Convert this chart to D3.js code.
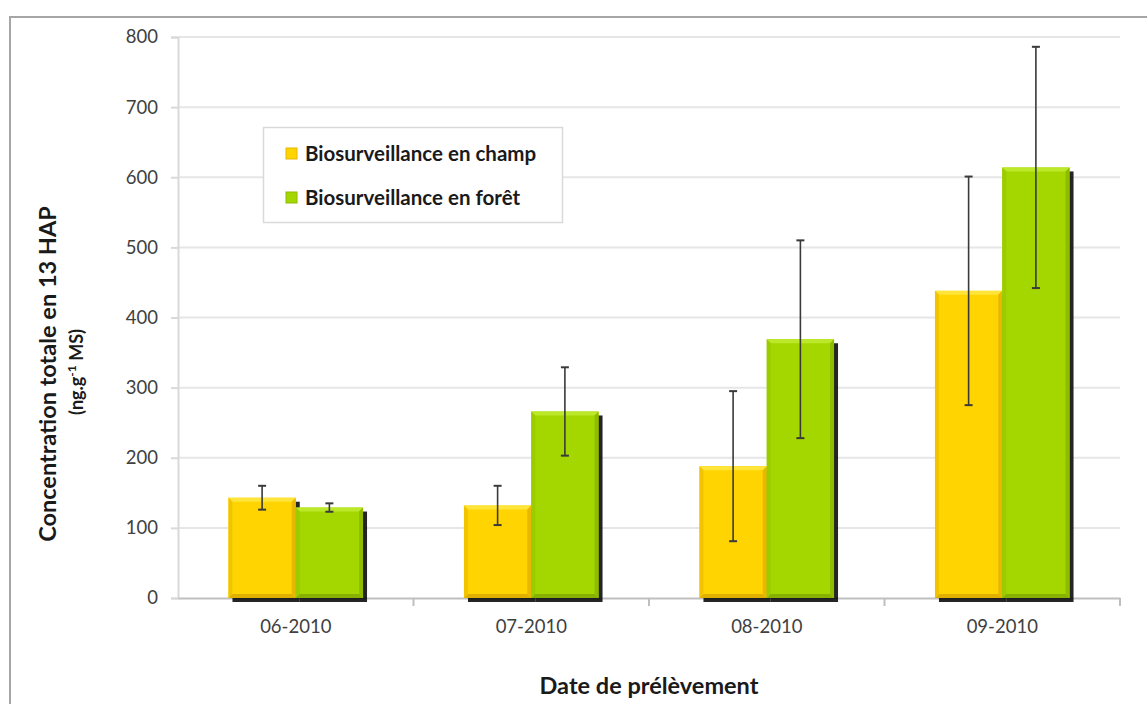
<!DOCTYPE html>
<html>
<head>
<meta charset="utf-8">
<script src="https://cdn.jsdelivr.net/npm/d3@7"></script>
<style>
  html, body { margin: 0; padding: 0; background: #fff; }
  svg { display: block; }
  text { font-family: Lato, "Open Sans", sans-serif; }
</style>
</head>
<body>
<svg id="chart" width="1147" height="704"></svg>
<script>
// Sampling months
const categories = ["06-2010", "07-2010", "08-2010", "09-2010"];
// Series names (legend)
const seriesNames = ["Biosurveillance en champ", "Biosurveillance en forêt"];
// Mean total concentration of the 13 PAHs (ng/g DM)
const champValues = [143, 132, 188, 438];
const foretValues = [129, 266, 369, 614];
// Error bar half-widths
const champErrors = [17, 28, 107, 163];
const foretErrors = [6, 63, 141, 172];
// Y axis ticks
const yTicks = [0, 100, 200, 300, 400, 500, 600, 700, 800];

const colors = {
  base:   ["#ffd400", "#a4d600"],
  top:    ["#ffe43a", "#bce82a"],
  left:   ["#f2c400", "#9acc00"],
  right:  ["#e8b800", "#90bc00"],
  bottom: ["#e0b000", "#88b000"]
};

const svg = d3.select("#chart");
const W = 1147, H = 704;
const plot = { left: 178, right: 1120, top: 37, bottom: 598 };

// Outer frame (left and top edges visible)
svg.append("path")
  .attr("d", `M10,${H} L10,17 L${W},17`)
  .attr("fill", "none")
  .attr("stroke", "#a6a6a6")
  .attr("stroke-width", 2);

const x0 = d3.scaleBand().domain(categories).range([plot.left, plot.right]).padding(0);
const bw = x0.bandwidth();
const barW = bw / 3.5;           // gap width of 150 %
const x1 = d3.scaleBand().domain(seriesNames)
  .range([0.75 * barW, bw - 0.75 * barW]).padding(0);
const y = d3.scaleLinear().domain([0, 800]).range([plot.bottom, plot.top]);

// Gridlines
svg.append("g").selectAll("line").data(yTicks.filter(d => d > 0)).join("line")
  .attr("x1", plot.left).attr("x2", plot.right)
  .attr("y1", d => y(d)).attr("y2", d => y(d))
  .attr("stroke", "#e6e6e6").attr("stroke-width", 2);

// Y axis
const yAxis = svg.append("g")
  .attr("transform", `translate(${plot.left},0)`)
  .call(d3.axisLeft(y).tickValues(yTicks).tickSize(7).tickPadding(13));
yAxis.select(".domain").attr("stroke", "#d9d9d9").attr("stroke-width", 2);
yAxis.selectAll(".tick line").attr("stroke", "#d9d9d9").attr("stroke-width", 2);
yAxis.selectAll(".tick text")
  .attr("font-size", 18.5).attr("fill", "#404040")
  .attr("font-family", "Lato, sans-serif");

// X axis
const xAxis = svg.append("g")
  .attr("transform", `translate(0,${plot.bottom})`)
  .call(d3.axisBottom(x0).tickSize(0).tickPadding(22));
xAxis.select(".domain").attr("stroke", "#bfbfbf").attr("stroke-width", 2);
xAxis.selectAll(".tick text")
  .attr("font-size", 18.5).attr("fill", "#404040")
  .attr("font-family", "Lato, sans-serif");
// Category separators
svg.append("g").selectAll("line")
  .data(categories.map(c => x0(c) + bw))
  .join("line")
  .attr("x1", d => d).attr("x2", d => d)
  .attr("y1", plot.bottom).attr("y2", plot.bottom + 8)
  .attr("stroke", "#bfbfbf").attr("stroke-width", 2);

// Shadow filter
const defs = svg.append("defs");
defs.append("filter").attr("id", "shadowBlur")
  .attr("x", "-10%").attr("y", "-10%").attr("width", "120%").attr("height", "120%")
  .append("feGaussianBlur").attr("stdDeviation", 0.7);

const seriesVals = [champValues, foretValues];
const seriesErr = [champErrors, foretErrors];
const b = 4; // bevel size

function drawBar(g, xL, yT, w, h, si) {
  g.append("rect")
    .attr("x", xL + 4).attr("y", yT + 4).attr("width", w).attr("height", h)
    .attr("fill", "#000").attr("opacity", 0.85)
    .attr("filter", "url(#shadowBlur)");
  g.append("rect")
    .attr("x", xL).attr("y", yT).attr("width", w).attr("height", h)
    .attr("fill", colors.base[si]);
  const xR = xL + w, yB = yT + h;
  const poly = pts => "M" + pts.map(p => p.join(",")).join("L") + "Z";
  g.append("path").attr("d", poly([[xL, yT], [xR, yT], [xR - b, yT + b], [xL + b, yT + b]]))
    .attr("fill", colors.top[si]);
  g.append("path").attr("d", poly([[xL, yT], [xL + b, yT + b], [xL + b, yB - b], [xL, yB]]))
    .attr("fill", colors.left[si]);
  g.append("path").attr("d", poly([[xR, yT], [xR - b, yT + b], [xR - b, yB - b], [xR, yB]]))
    .attr("fill", colors.right[si]);
  g.append("path").attr("d", poly([[xL, yB], [xL + b, yB - b], [xR - b, yB - b], [xR, yB]]))
    .attr("fill", colors.bottom[si]);
}

const barsG = svg.append("g");
categories.forEach((c, ci) => {
  seriesNames.forEach((s, si) => {
    const v = seriesVals[si][ci];
    const xL = x0(c) + x1(s);
    drawBar(barsG, xL, y(v), x1.bandwidth(), y(0) - y(v), si);
  });
});

// Error bars
const errG = svg.append("g");
categories.forEach((c, ci) => {
  seriesNames.forEach((s, si) => {
    const v = seriesVals[si][ci], e = seriesErr[si][ci];
    const cx = x0(c) + x1(s) + x1.bandwidth() / 2;
    const yHi = y(v + e), yLo = y(v - e);
    errG.append("line").attr("x1", cx).attr("x2", cx).attr("y1", yHi).attr("y2", yLo)
      .attr("stroke", "#3a3a3a").attr("stroke-width", 1.6);
    [yHi, yLo].forEach(yy => errG.append("line")
      .attr("x1", cx - 4).attr("x2", cx + 4).attr("y1", yy).attr("y2", yy)
      .attr("stroke", "#3a3a3a").attr("stroke-width", 2));
  });
});

// Legend
const leg = svg.append("g").attr("transform", "translate(263,127)");
leg.append("rect").attr("x", 0.5).attr("y", 0.5).attr("width", 299).attr("height", 95)
  .attr("fill", "#fff").attr("stroke", "#d9d9d9").attr("stroke-width", 1.5);
seriesNames.forEach((s, si) => {
  const row = leg.append("g").attr("transform", `translate(0,${27 + si * 44})`);
  row.append("rect").attr("x", 23).attr("y", -6).attr("width", 11).attr("height", 11)
    .attr("fill", colors.base[si]).attr("stroke", colors.right[si]).attr("stroke-width", 1);
  row.append("text").attr("x", 42).attr("y", 0).attr("dy", "0.35em")
    .attr("font-size", 20.5).attr("font-weight", 700).attr("fill", "#1a1a1a")
    .text(s);
});

// Y axis title
svg.append("text")
  .attr("transform", "translate(56,374) rotate(-90)")
  .attr("text-anchor", "middle")
  .attr("font-size", 23.5).attr("font-weight", 700).attr("fill", "#1a1a1a")
  .text("Concentration totale en 13 HAP");
const ySub = svg.append("text")
  .attr("transform", "translate(83,372) rotate(-90)")
  .attr("text-anchor", "middle")
  .attr("font-size", 18).attr("font-weight", 700).attr("fill", "#1a1a1a");
ySub.append("tspan").text("(ng.g");
ySub.append("tspan").attr("baseline-shift", "super").attr("font-size", 12).text("-1");
ySub.append("tspan").text(" MS)");

// X axis title
svg.append("text")
  .attr("x", (plot.left + plot.right) / 2).attr("y", 694)
  .attr("text-anchor", "middle")
  .attr("font-size", 23.5).attr("font-weight", 700).attr("fill", "#1a1a1a")
  .text("Date de prélèvement");
</script>
</body>
</html>
